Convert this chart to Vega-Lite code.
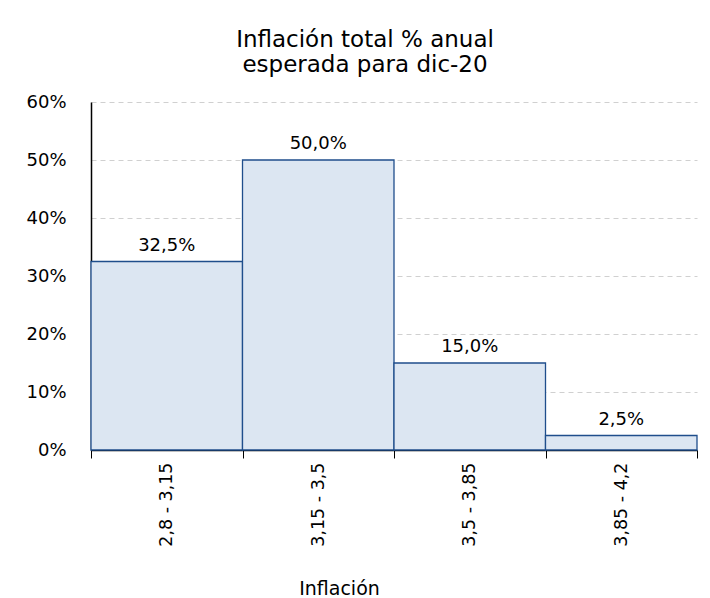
{
  "$schema": "https://vega.github.io/schema/vega-lite/v6.json",
  "width": 606,
  "height": 348,
  "autosize": {"type": "none"},
  "padding": {"left": 91, "top": 102, "right": 13, "bottom": 148},
  "background": "white",
  "config": {
    "locale": {"number": {"decimal": ",", "thousands": ".", "grouping": [3], "currency": ["", " €"]}},
    "font": "DejaVu Sans",
    "view": {"stroke": null}
  },
  "title": {
    "text": ["Inflación total % anual", "esperada para dic-20"],
    "fontSize": 23,
    "fontWeight": "normal",
    "color": "#000000",
    "anchor": "middle",
    "dx": -29,
    "offset": 16,
    "lineHeight": 25
  },
  "data": {
    "values": [
      {"rango": "2,8 - 3,15", "pct": 0.325},
      {"rango": "3,15 - 3,5", "pct": 0.5},
      {"rango": "3,5 - 3,85", "pct": 0.15},
      {"rango": "3,85 - 4,2", "pct": 0.025}
    ]
  },
  "encoding": {
    "x": {
      "field": "rango",
      "type": "nominal",
      "sort": null,
      "scale": {"paddingInner": 0, "paddingOuter": 0},
      "axis": {
        "title": "Inflación",
        "titleFontSize": 19,
        "titleFontWeight": "normal",
        "titleColor": "#000000",
        "titleX": 248,
        "titleY": 144,
        "titleAnchor": null,
        "titleAlign": "center",
        "titleBaseline": "alphabetic",
        "labelAngle": -90,
        "labelAlign": "right",
        "labelBaseline": "middle",
        "labelFontSize": 17.5,
        "labelColor": "#000000",
        "labelPadding": 4,
        "tickBand": "extent",
        "tickSize": 8,
        "tickColor": "#000000",
        "domainColor": "#000000",
        "domainWidth": 1.5,
        "grid": false
      }
    },
    "y": {
      "field": "pct",
      "type": "quantitative",
      "scale": {"domain": [0, 0.6], "nice": false},
      "axis": {
        "title": null,
        "format": ".0%",
        "values": [0, 0.1, 0.2, 0.3, 0.4, 0.5, 0.6],
        "labelFontSize": 18,
        "labelColor": "#000000",
        "labelPadding": 25,
        "ticks": false,
        "domainColor": "#000000",
        "domainWidth": 1.5,
        "gridColor": "#d0d0d0",
        "gridDash": [5, 4],
        "gridWidth": 1
      }
    }
  },
  "layer": [
    {
      "mark": {"type": "bar", "fill": "#dce6f2", "stroke": "#1f4e8c", "strokeWidth": 1.3}
    },
    {
      "mark": {"type": "text", "baseline": "bottom", "dy": -7, "fontSize": 18, "color": "#000000"},
      "encoding": {"text": {"field": "pct", "type": "quantitative", "format": ".1%"}}
    }
  ]
}
